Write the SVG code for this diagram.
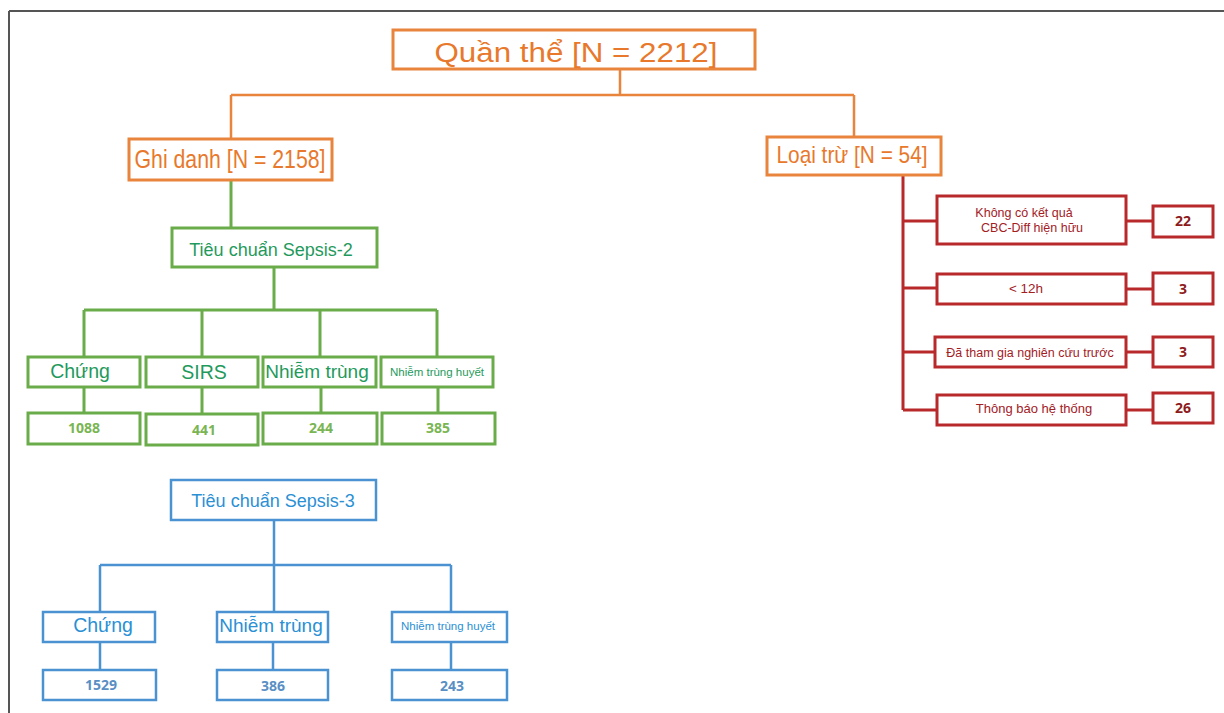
<svg xmlns="http://www.w3.org/2000/svg" width="1224" height="713" viewBox="0 0 1224 713">
<style>
text{font-family:"Liberation Sans",Arial,sans-serif;text-anchor:middle}
.num{font-family:"Open Sans","Liberation Sans",sans-serif;font-weight:bold;font-size:14px}
.bo{fill:#fff;stroke:#e8843c;stroke-width:3}
.bg{fill:#fff;stroke:#6aab4a;stroke-width:3}
.bb{fill:#fff;stroke:#4a92d2;stroke-width:2.5}
.br{fill:#fff;stroke:#b8292b;stroke-width:3}
.to{fill:#e8792c}
.tg{fill:#1f9a5c}
.ng{fill:#7ab553}
.tb{fill:#2b90d4}
.nb{fill:#5a8fc4}
.tr{fill:#a3201f}
.nr{fill:#8e1b1b}
.co{stroke:#e8843c;stroke-width:2.5;fill:none}
.cg{stroke:#6aab4a;stroke-width:3;fill:none}
.cb{stroke:#4a92d2;stroke-width:2.5;fill:none}
.cr{stroke:#b8292b;stroke-width:3;fill:none}
</style>
<rect width="1224" height="713" fill="#fff"/>
<g id="frame" stroke="#555" stroke-width="2" fill="none">
<line x1="9" y1="11" x2="1224" y2="11"/>
<line x1="9" y1="11" x2="9" y2="713"/>
</g>
<g id="connectors">
<path class="co" d="M620 69V95M231 95H854M231 95V139M854 95V137"/>
<path class="cg" d="M231 180V228M274 267V310M84 310H437M84 310V357M202 310V357M320 310V357M437 310V357M84 387V413M202 387V413M321 387V413M438 387V413"/>
<path class="cb" d="M274 520V565M100 565H451M100 565V612M274 565V612M451 565V612M100 642V670M273 642V670M451 642V670"/>
<path class="cr" d="M903 175V410M903 221H937M903 288H937M903 352H935M903 410H937M1126 221H1153M1126 289H1153M1126 352H1153M1126 410H1153"/>
</g>
<g id="root"><rect class="bo" x="393" y="30" width="362" height="39"/><text class="to" x="576" y="62" font-size="27" textLength="283" lengthAdjust="spacingAndGlyphs">Quần thể [N = 2212]</text></g>
<g id="ghidanh"><rect class="bo" x="129" y="139" width="203" height="41"/><text class="to" x="230" y="168" font-size="25" textLength="191" lengthAdjust="spacingAndGlyphs">Ghi danh [N = 2158]</text></g>
<g id="loaitru"><rect class="bo" x="767" y="137" width="174" height="38"/><text class="to" x="852" y="163" font-size="24" textLength="151" lengthAdjust="spacingAndGlyphs">Loại trừ [N = 54]</text></g>
<g id="sepsis2"><rect class="bg" x="172" y="228" width="205" height="39"/><text class="tg" x="271" y="256" font-size="18">Tiêu chuẩn Sepsis-2</text></g>
<g id="s2-chung"><rect class="bg" x="28" y="357" width="112" height="30"/><text class="tg" x="80" y="378" font-size="19.5">Chứng</text></g>
<g id="s2-sirs"><rect class="bg" x="146" y="357" width="112" height="30"/><text class="tg" x="204" y="379" font-size="19.5">SIRS</text></g>
<g id="s2-nhiem"><rect class="bg" x="263" y="357" width="113" height="30"/><text class="tg" x="317" y="378" font-size="19">Nhiễm trùng</text></g>
<g id="s2-huyet"><rect class="bg" x="381" y="357" width="112" height="30"/><text class="tg" x="437" y="376" font-size="11.5">Nhiễm trùng huyết</text></g>
<g id="s2-n1"><rect class="bg" x="28" y="413" width="112" height="31"/><text class="num ng" x="84" y="433">1088</text></g>
<g id="s2-n2"><rect class="bg" x="146" y="414" width="112" height="31"/><text class="num ng" x="204" y="435">441</text></g>
<g id="s2-n3"><rect class="bg" x="263" y="413" width="114" height="31"/><text class="num ng" x="321" y="433">244</text></g>
<g id="s2-n4"><rect class="bg" x="382" y="413" width="113" height="31"/><text class="num ng" x="438" y="433">385</text></g>
<g id="sepsis3"><rect class="bb" x="171" y="480" width="205" height="40"/><text class="tb" x="273" y="507" font-size="18">Tiêu chuẩn Sepsis-3</text></g>
<g id="s3-chung"><rect class="bb" x="43" y="612" width="112" height="30"/><text class="tb" x="103" y="632" font-size="19.5">Chứng</text></g>
<g id="s3-nhiem"><rect class="bb" x="217" y="612" width="111" height="30"/><text class="tb" x="271" y="632" font-size="19">Nhiễm trùng</text></g>
<g id="s3-huyet"><rect class="bb" x="392" y="612" width="115" height="30"/><text class="tb" x="448" y="630" font-size="11.5">Nhiễm trùng huyết</text></g>
<g id="s3-n1"><rect class="bb" x="43" y="670" width="113" height="30"/><text class="num nb" x="101" y="690">1529</text></g>
<g id="s3-n2"><rect class="bb" x="217" y="670" width="111" height="30"/><text class="num nb" x="273" y="691">386</text></g>
<g id="s3-n3"><rect class="bb" x="392" y="670" width="115" height="30"/><text class="num nb" x="452" y="691">243</text></g>
<g id="ex1"><rect class="br" x="937" y="196" width="189" height="48"/><text class="tr" x="1024" y="217" font-size="12.5">Không có kết quả</text><text class="tr" x="1032" y="232" font-size="12.5">CBC-Diff hiện hữu</text></g>
<g id="ex2"><rect class="br" x="937" y="274" width="189" height="30"/><text class="tr" x="1026" y="293" font-size="13.5">&lt; 12h</text></g>
<g id="ex3"><rect class="br" x="935" y="337" width="191" height="30"/><text class="tr" x="1030" y="357" font-size="12.5">Đã tham gia nghiên cứu trước</text></g>
<g id="ex4"><rect class="br" x="937" y="395" width="189" height="30"/><text class="tr" x="1034" y="413" font-size="13">Thông báo hệ thống</text></g>
<g id="ex1n"><rect class="br" x="1153" y="206" width="60" height="31"/><text class="num nr" x="1183" y="226">22</text></g>
<g id="ex2n"><rect class="br" x="1153" y="273" width="60" height="31"/><text class="num nr" x="1183" y="294">3</text></g>
<g id="ex3n"><rect class="br" x="1153" y="337" width="60" height="30"/><text class="num nr" x="1183" y="357">3</text></g>
<g id="ex4n"><rect class="br" x="1153" y="393" width="60" height="30"/><text class="num nr" x="1183" y="413">26</text></g>
</svg>
